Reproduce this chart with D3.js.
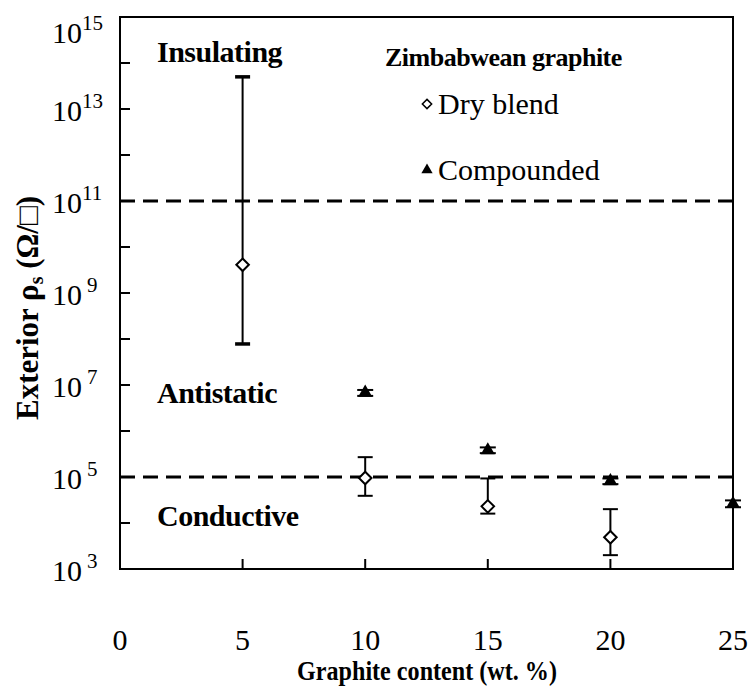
<!DOCTYPE html>
<html>
<head>
<meta charset="utf-8">
<script src="https://cdn.jsdelivr.net/npm/d3@7"></script>
<style>
  body { margin: 0; background: #fff; }
  svg text { font-family: "Liberation Serif", "Times New Roman", serif; fill: #000; }
</style>
</head>
<body>
<div id="chart"></div>
<script>
// Graphite content (wt. %)
const dryX = [5, 10, 15, 20];
const dryY = [4.1e9, 9.5e4, 2.3e4, 4.9e3];
const dryLow = [7.8e7, 3.9e4, 1.6e4, 2.0e3];
const dryHigh = [5.0e13, 2.7e5, 9.3e4, 2.0e4];

const compX = [10, 15, 20, 25];
const compY = [6.8e6, 3.8e5, 8.1e4, 2.6e4];
const compLow = [5.8e6, 3.3e5, 7.0e4, 2.2e4];
const compHigh = [7.8e6, 4.4e5, 9.3e4, 3.1e4];

const xTicks = [0, 5, 10, 15, 20, 25];
const yMajorExp = [3, 5, 7, 9, 11, 13, 15];
const yMinorExp = [4, 6, 8, 10, 12, 14];
const thresholds = [1e11, 1e5];

const width = 753, height = 686;
const margin = {top: 17, right: 20, bottom: 117, left: 120};
const innerW = width - margin.left - margin.right;
const innerH = height - margin.top - margin.bottom;

const svg = d3.select('#chart').append('svg')
    .attr('width', width)
    .attr('height', height);

const g = svg.append('g')
    .attr('transform', `translate(${margin.left},${margin.top})`);

const x = d3.scaleLinear().domain([0, 25]).range([0, innerW]);
const y = d3.scaleLog().domain([1e3, 1e15]).range([innerH, 0]);

// frame
g.append('rect')
    .attr('width', innerW)
    .attr('height', innerH)
    .attr('fill', 'none')
    .attr('stroke', '#000')
    .attr('stroke-width', 2);

// y ticks (inside)
const allExp = yMajorExp.concat(yMinorExp);
g.selectAll('.ytick')
    .data(allExp)
    .enter().append('line')
    .attr('x1', 0).attr('x2', 10)
    .attr('y1', d => y(Math.pow(10, d)))
    .attr('y2', d => y(Math.pow(10, d)))
    .attr('stroke', '#000')
    .attr('stroke-width', 2);

// y tick labels 10^n (top one pushed down to stay inside the page)
const labY = d => Math.max(y(Math.pow(10, d)), 14);
g.selectAll('.ylab')
    .data(yMajorExp)
    .enter().append('text')
    .attr('x', -38)
    .attr('y', d => labY(d) + 12)
    .attr('text-anchor', 'end')
    .style('font-size', '30px')
    .text('10');
g.selectAll('.yexp')
    .data(yMajorExp)
    .enter().append('text')
    .attr('x', d => d >= 10 ? -38 : -33)
    .attr('y', d => labY(d) - 1)
    .style('font-size', '21px')
    .text(d => d);

// x ticks (inside)
g.selectAll('.xtick')
    .data(xTicks)
    .enter().append('line')
    .attr('x1', d => x(d)).attr('x2', d => x(d))
    .attr('y1', innerH).attr('y2', innerH - 10)
    .attr('stroke', '#000')
    .attr('stroke-width', 2);

g.selectAll('.xlab')
    .data(xTicks)
    .enter().append('text')
    .attr('x', d => x(d))
    .attr('y', innerH + 81)
    .attr('text-anchor', 'middle')
    .style('font-size', '30px')
    .text(d => d);

// threshold dashed lines
g.selectAll('.thr')
    .data(thresholds)
    .enter().append('line')
    .attr('x1', 0).attr('x2', innerW)
    .attr('y1', d => y(d)).attr('y2', d => y(d))
    .attr('stroke', '#000')
    .attr('stroke-width', 3)
    .attr('stroke-dasharray', '15,8');

// region labels
const regions = [
    {text: 'Insulating', y: 62},
    {text: 'Antistatic', y: 403},
    {text: 'Conductive', y: 526}
];
svg.selectAll('.region')
    .data(regions)
    .enter().append('text')
    .attr('x', 157)
    .attr('y', d => d.y)
    .style('font-size', '30px')
    .style('font-weight', 'bold')
    .style('letter-spacing', '-0.5px')
    .text(d => d.text);

// error bars helper
function errorBars(xs, lows, highs, capW, capStroke) {
    const data = xs.map((v, i) => ({x: v, lo: lows[i], hi: highs[i]}));
    const eg = g.append('g');
    eg.selectAll('.stem').data(data).enter().append('line')
        .attr('x1', d => x(d.x)).attr('x2', d => x(d.x))
        .attr('y1', d => y(d.lo)).attr('y2', d => y(d.hi))
        .attr('stroke', '#000').attr('stroke-width', 2);
    ['lo', 'hi'].forEach(k => {
        eg.selectAll('.cap' + k).data(data).enter().append('line')
            .attr('x1', d => x(d.x) - capW / 2).attr('x2', d => x(d.x) + capW / 2)
            .attr('y1', d => y(d[k])).attr('y2', d => y(d[k]))
            .attr('stroke', '#000').attr('stroke-width', capStroke);
    });
}

errorBars(dryX.slice(0, 1), dryLow.slice(0, 1), dryHigh.slice(0, 1), 15, 3.5);
errorBars(dryX.slice(1), dryLow.slice(1), dryHigh.slice(1), 15, 2);
errorBars(compX, compLow, compHigh, 16, 2);

// dry blend: open diamonds
const diamond = d3.symbol().type(d3.symbolDiamond2).size(100);
g.selectAll('.dry')
    .data(dryX.map((v, i) => ({x: v, y: dryY[i]})))
    .enter().append('path')
    .attr('d', diamond)
    .attr('transform', d => `translate(${x(d.x)},${y(d.y)})`)
    .attr('fill', '#fff')
    .attr('stroke', '#000')
    .attr('stroke-width', 2);

// compounded: filled triangles
const tri = d3.symbol().type(d3.symbolTriangle).size(85);
g.selectAll('.comp')
    .data(compX.map((v, i) => ({x: v, y: compY[i]})))
    .enter().append('path')
    .attr('d', tri)
    .attr('transform', d => `translate(${x(d.x)},${y(d.y)})`)
    .attr('fill', '#000');

// legend
svg.append('text')
    .attr('x', 385).attr('y', 66)
    .style('font-size', '26px')
    .style('font-weight', 'bold')
    .style('letter-spacing', '-0.5px')
    .text('Zimbabwean graphite');

svg.append('path')
    .attr('d', d3.symbol().type(d3.symbolDiamond2).size(55))
    .attr('transform', 'translate(427,104)')
    .attr('fill', '#fff').attr('stroke', '#000').attr('stroke-width', 1.5);
svg.append('text')
    .attr('x', 438).attr('y', 114)
    .style('font-size', '30px')
    .text('Dry blend');

svg.append('path')
    .attr('d', d3.symbol().type(d3.symbolTriangle).size(55))
    .attr('transform', 'translate(427,170)')
    .attr('fill', '#000');
svg.append('text')
    .attr('x', 438).attr('y', 180)
    .style('font-size', '30px')
    .text('Compounded');

// axis titles
svg.append('text')
    .attr('x', 427)
    .attr('y', 680)
    .attr('textLength', 260)
    .attr('lengthAdjust', 'spacingAndGlyphs')
    .attr('text-anchor', 'middle')
    .style('font-size', '28px')
    .style('font-weight', 'bold')
    .text('Graphite content (wt. %)');

const yt = svg.append('text')
    .attr('transform', 'translate(38,308) rotate(-90)')
    .attr('text-anchor', 'middle')
    .style('font-size', '31px')
    .style('font-weight', 'bold');
yt.append('tspan').text('Exterior ρ');
yt.append('tspan').attr('dy', 5).style('font-size', '20px').text('s');
yt.append('tspan').attr('dy', -5).text(' (Ω/□)');
</script>
</body>
</html>
